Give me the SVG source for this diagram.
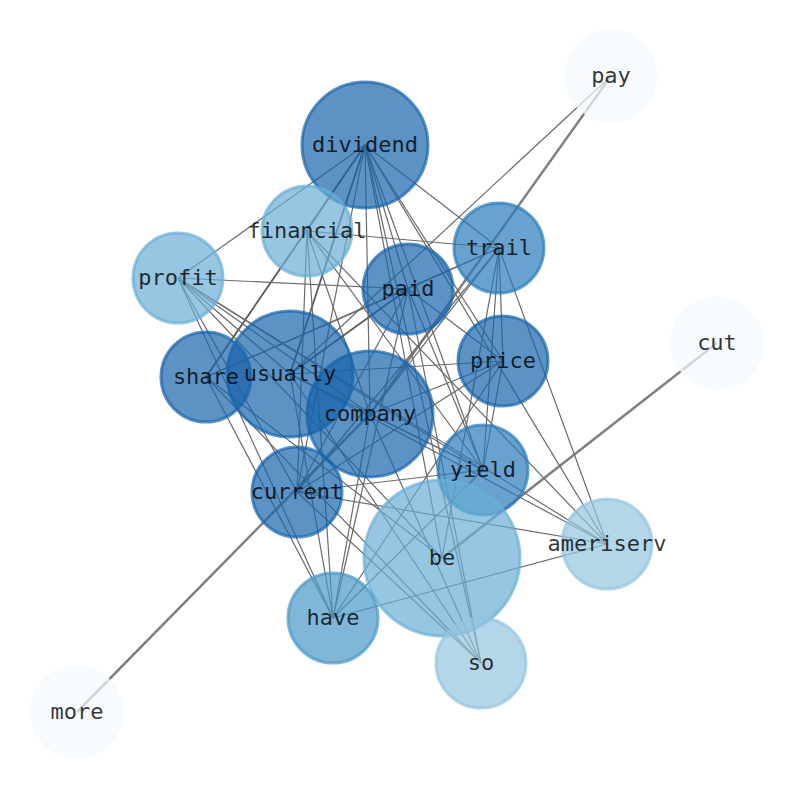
<svg xmlns="http://www.w3.org/2000/svg" width="794" height="790" viewBox="0 0 794 790">
<style>
.e{stroke:#6a6a6a;stroke-width:1.2;fill:none}
.m{stroke:#5a5a5a;stroke-width:1.8;fill:none}
.h{stroke:#808080;stroke-width:2.5;fill:none}
.n circle{stroke-width:3}
.t{font-family:"DejaVu Sans Mono",monospace;font-size:22px;fill:#000;fill-opacity:0.8;text-anchor:middle}
.c1 circle{fill:#1764ab;fill-opacity:0.7;stroke:#1764ab;stroke-opacity:0.7}
.c2 circle{fill:#2a7ab9;fill-opacity:0.7;stroke:#2a7ab9;stroke-opacity:0.7}
.c3 circle{fill:#4a98c9;fill-opacity:0.7;stroke:#4a98c9;stroke-opacity:0.7}
.c4 circle{fill:#6aaed6;fill-opacity:0.7;stroke:#6aaed6;stroke-opacity:0.7}
.c5 circle{fill:#94c4df;fill-opacity:0.7;stroke:#94c4df;stroke-opacity:0.7}
.c6 circle{fill:#f4f9fe;fill-opacity:0.7;stroke:#f4f9fe;stroke-opacity:0.7}
</style>
<rect width="794" height="790" fill="#fff"/>
<g id="edges">
<line class="h" x1="611" y1="76" x2="370" y2="414"/>
<line class="h" x1="717" y1="343" x2="442" y2="558"/>
<line class="h" x1="77" y1="712" x2="370" y2="414"/>
<line class="e" x1="611" y1="76" x2="290" y2="374"/>
<line class="e" x1="365" y1="145" x2="178" y2="278"/>
<line class="e" x1="365" y1="145" x2="307" y2="231"/>
<line class="m" x1="365" y1="145" x2="206" y2="377"/>
<line class="m" x1="365" y1="145" x2="290" y2="374"/>
<line class="e" x1="365" y1="145" x2="370" y2="414"/>
<line class="e" x1="365" y1="145" x2="297" y2="492"/>
<line class="e" x1="365" y1="145" x2="442" y2="558"/>
<line class="e" x1="365" y1="145" x2="481" y2="663"/>
<line class="e" x1="365" y1="145" x2="408" y2="289"/>
<line class="e" x1="365" y1="145" x2="483" y2="470"/>
<line class="e" x1="365" y1="145" x2="499" y2="248"/>
<line class="e" x1="365" y1="145" x2="503" y2="361"/>
<line class="e" x1="365" y1="145" x2="607" y2="544"/>
<line class="e" x1="307" y1="231" x2="499" y2="248"/>
<line class="e" x1="307" y1="231" x2="297" y2="492"/>
<line class="e" x1="307" y1="231" x2="333" y2="618"/>
<line class="e" x1="307" y1="231" x2="370" y2="414"/>
<line class="e" x1="307" y1="231" x2="483" y2="470"/>
<line class="e" x1="307" y1="231" x2="607" y2="544"/>
<line class="e" x1="178" y1="278" x2="408" y2="289"/>
<line class="e" x1="178" y1="278" x2="290" y2="374"/>
<line class="e" x1="178" y1="278" x2="370" y2="414"/>
<line class="e" x1="178" y1="278" x2="442" y2="558"/>
<line class="e" x1="178" y1="278" x2="483" y2="470"/>
<line class="e" x1="178" y1="278" x2="607" y2="544"/>
<line class="e" x1="178" y1="278" x2="297" y2="492"/>
<line class="e" x1="178" y1="278" x2="333" y2="618"/>
<line class="e" x1="206" y1="377" x2="408" y2="289"/>
<line class="e" x1="206" y1="377" x2="499" y2="248"/>
<line class="e" x1="206" y1="377" x2="333" y2="618"/>
<line class="e" x1="206" y1="377" x2="442" y2="558"/>
<line class="e" x1="206" y1="377" x2="481" y2="663"/>
<line class="e" x1="290" y1="374" x2="503" y2="361"/>
<line class="m" x1="290" y1="374" x2="408" y2="289"/>
<line class="e" x1="290" y1="374" x2="483" y2="470"/>
<line class="e" x1="290" y1="374" x2="333" y2="618"/>
<line class="e" x1="290" y1="374" x2="481" y2="663"/>
<line class="e" x1="290" y1="374" x2="607" y2="544"/>
<line class="e" x1="370" y1="414" x2="499" y2="248"/>
<line class="e" x1="370" y1="414" x2="503" y2="361"/>
<line class="e" x1="370" y1="414" x2="483" y2="470"/>
<line class="e" x1="370" y1="414" x2="481" y2="663"/>
<line class="e" x1="370" y1="414" x2="333" y2="618"/>
<line class="e" x1="408" y1="289" x2="499" y2="248"/>
<line class="e" x1="408" y1="289" x2="503" y2="361"/>
<line class="e" x1="408" y1="289" x2="483" y2="470"/>
<line class="e" x1="408" y1="289" x2="297" y2="492"/>
<line class="e" x1="408" y1="289" x2="481" y2="663"/>
<line class="e" x1="408" y1="289" x2="333" y2="618"/>
<line class="e" x1="499" y1="248" x2="503" y2="361"/>
<line class="e" x1="499" y1="248" x2="483" y2="470"/>
<line class="e" x1="499" y1="248" x2="607" y2="544"/>
<line class="e" x1="499" y1="248" x2="297" y2="492"/>
<line class="e" x1="499" y1="248" x2="442" y2="558"/>
<line class="e" x1="503" y1="361" x2="483" y2="470"/>
<line class="e" x1="503" y1="361" x2="297" y2="492"/>
<line class="e" x1="503" y1="361" x2="333" y2="618"/>
<line class="e" x1="483" y1="470" x2="297" y2="492"/>
<line class="e" x1="483" y1="470" x2="333" y2="618"/>
<line class="e" x1="297" y1="492" x2="607" y2="544"/>
<line class="e" x1="297" y1="492" x2="481" y2="663"/>
<line class="e" x1="333" y1="618" x2="607" y2="544"/>
</g>
<g id="node-pay" class="n c6"><circle cx="611" cy="76" r="45"/></g>
<g id="node-cut" class="n c6"><circle cx="717" cy="343" r="45"/></g>
<g id="node-more" class="n c6"><circle cx="77" cy="712" r="45"/></g>
<g id="node-dividend" class="n c1"><circle cx="365" cy="145" r="63"/></g>
<g id="node-financial" class="n c4"><circle cx="307" cy="231" r="45"/></g>
<g id="node-trail" class="n c2"><circle cx="499" cy="248" r="45"/></g>
<g id="node-profit" class="n c4"><circle cx="178" cy="278" r="45"/></g>
<g id="node-paid" class="n c1"><circle cx="408" cy="289" r="45"/></g>
<g id="node-price" class="n c1"><circle cx="503" cy="361" r="45"/></g>
<g id="node-share" class="n c1"><circle cx="206" cy="377" r="45"/></g>
<g id="node-usually" class="n c1"><circle cx="290" cy="374" r="63"/></g>
<g id="node-company" class="n c1"><circle cx="370" cy="414" r="63"/></g>
<g id="node-yield" class="n c2"><circle cx="483" cy="470" r="45"/></g>
<g id="node-current" class="n c1"><circle cx="297" cy="492" r="45"/></g>
<g id="node-be" class="n c4"><circle cx="442" cy="558" r="78"/></g>
<g id="node-ameriserv" class="n c5"><circle cx="607" cy="544" r="45"/></g>
<g id="node-have" class="n c3"><circle cx="333" cy="618" r="45"/></g>
<g id="node-so" class="n c5"><circle cx="481" cy="663" r="45"/></g>
<g id="labels">
<text class="t" x="611" y="83">pay</text>
<text class="t" x="717" y="350">cut</text>
<text class="t" x="77" y="719">more</text>
<text class="t" x="365" y="152">dividend</text>
<text class="t" x="307" y="238">financial</text>
<text class="t" x="499" y="255">trail</text>
<text class="t" x="178" y="285">profit</text>
<text class="t" x="408" y="296">paid</text>
<text class="t" x="503" y="368">price</text>
<text class="t" x="206" y="384">share</text>
<text class="t" x="290" y="381">usually</text>
<text class="t" x="370" y="421">company</text>
<text class="t" x="483" y="477">yield</text>
<text class="t" x="297" y="499">current</text>
<text class="t" x="442" y="565">be</text>
<text class="t" x="607" y="551">ameriserv</text>
<text class="t" x="333" y="625">have</text>
<text class="t" x="481" y="670">so</text>
</g>
</svg>
